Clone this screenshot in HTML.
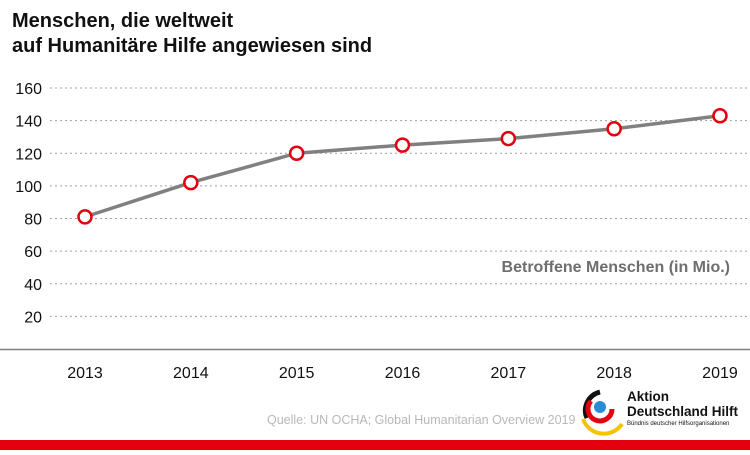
<!DOCTYPE html>
<html><head><meta charset="utf-8">
<style>
body{margin:0;width:750px;height:450px;overflow:hidden;background:#fff;font-family:"Liberation Sans",sans-serif}
</style></head>
<body>
<svg id="chart" width="750" height="450" xmlns="http://www.w3.org/2000/svg">
<text x="12" y="27" font-size="20" font-weight="bold" fill="#111">Menschen, die weltweit</text>
<text x="12" y="52" font-size="20" font-weight="bold" fill="#111">auf Humanitäre Hilfe angewiesen sind</text>
<g id="grid"></g>
<line x1="0" y1="349.5" x2="750" y2="349.5" stroke="#808080" stroke-width="1.5"/>
<g id="xt"></g>
<path id="line" fill="none" stroke="#808080" stroke-width="3.5"/>
<g id="pts"></g>
<text x="730" y="272" text-anchor="end" font-size="16" font-weight="bold" fill="#6e6e6e">Betroffene Menschen (in Mio.)</text>
<text x="267" y="424" font-size="12.5" fill="#b8b8b8">Quelle: UN OCHA; Global Humanitarian Overview 2019</text>
<g>
<path d="M600 392 A19 19 0 0 0 587 418" fill="none" stroke="#111" stroke-width="5"/>
<path d="M591 401 A12 12 0 1 0 612 409" fill="none" stroke="#e3000f" stroke-width="5"/>
<path d="M583 419 A22 22 0 0 0 622 424" fill="none" stroke="#f5c400" stroke-width="4"/>
<circle cx="600" cy="407" r="6" fill="#2a8bd6"/>
<text x="627" y="401" font-size="13.5" font-weight="bold" fill="#111">Aktion</text>
<text x="627" y="416" font-size="13.5" font-weight="bold" fill="#111">Deutschland Hilft</text>
<text x="627" y="425" font-size="6" fill="#111">Bündnis deutscher Hilfsorganisationen</text>
</g>
<rect x="0" y="440" width="750" height="10" fill="#e3000f"/>
</svg>
<script>
const years=["2013","2014","2015","2016","2017","2018","2019"];
const values=[81,102,120,125,129,135,143];
const yTicks=[20,40,60,80,100,120,140,160];
const NS="http://www.w3.org/2000/svg";
const x=i=>85+i*105.83;
const y=v=>349-v*(349-88)/160;
function mk(t,a,p){const e=document.createElementNS(NS,t);for(const k in a)e.setAttribute(k,a[k]);p.appendChild(e);return e;}
const grid=document.getElementById('grid');
yTicks.forEach(v=>{
 const l=mk('line',{x1:50,x2:750,y1:y(v),y2:y(v),stroke:'#a0a0a0','stroke-width':1,'stroke-dasharray':'2,3'},grid);
 
 
 const t=mk('text',{x:42,y:y(v)+6,'text-anchor':'end','font-size':16,fill:'#111'},grid);
 t.textContent=v;
 
 
});
const xt=document.getElementById('xt');
years.forEach((yr,i)=>{
 const t=mk('text',{x:x(i),y:378,'text-anchor':'middle','font-size':16,fill:'#111'},xt);
 t.textContent=yr;
 
 
});
document.getElementById('line').setAttribute('d',values.map((v,i)=>(i?'L':'M')+x(i)+' '+y(v)).join(' '));
const pts=document.getElementById('pts');
values.forEach((v,i)=>{
 const c=mk('circle',{cx:x(i),cy:y(v),r:6.5,fill:'#fff',stroke:'#e3000f','stroke-width':2.5},pts);
 
 
});
</script>
</body></html>
